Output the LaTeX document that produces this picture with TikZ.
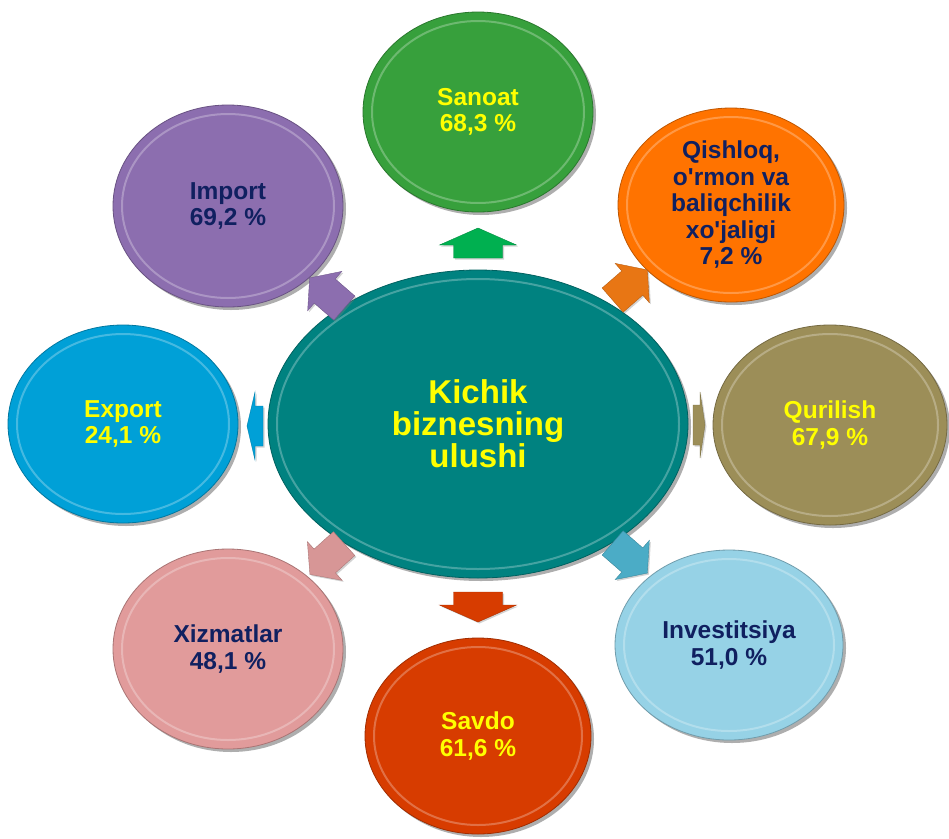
\documentclass[tikz,border=0pt]{standalone}
\usepackage{fontspec}
\setmainfont{Liberation Sans}
\usetikzlibrary{shapes.geometric,shadows}
\definecolor{cteal}{RGB}{0,130,128}
\definecolor{cgreen}{RGB}{55,160,60}
\definecolor{corange}{RGB}{255,115,0}
\definecolor{colive}{RGB}{156,142,88}
\definecolor{clblue}{RGB}{150,210,230}
\definecolor{cred}{RGB}{215,60,0}
\definecolor{cpink}{RGB}{225,155,155}
\definecolor{cblue}{RGB}{0,160,215}
\definecolor{cpurple}{RGB}{140,110,175}
\definecolor{agreen}{RGB}{0,176,80}
\definecolor{aorange}{RGB}{232,118,20}
\definecolor{apink}{RGB}{215,150,150}
\definecolor{ablue}{RGB}{75,172,198}
\definecolor{tyel}{RGB}{255,255,0}
\definecolor{tnavy}{RGB}{16,32,96}
\tikzset{
  bub/.style={ellipse, inner sep=0pt, align=center,
    font=\bfseries\fontsize{24.5}{26.5}\selectfont,
    draw=#1!75!black, line width=0.8pt, fill=#1,
    drop shadow={shadow xshift=3pt, shadow yshift=-3pt, opacity=0.45, fill=black!70}},
  ringline/.style={draw=#1!55!white, line width=2pt, opacity=0.6},
  arrowshape/.style={fill=#1, draw=#1!80!black, line width=0.4pt,
    drop shadow={shadow xshift=1.5pt, shadow yshift=-1.5pt, opacity=0.35}}
}
\newcommand\bevelring[4]{%
  \draw[ringline=#2] (#1.center) ellipse [x radius=#3-9, y radius=#4-9];}
\newcommand\blockarrow[8]{% color, x, y, angle, len, headlen, headw, shaftw
  \path[arrowshape=#1, shift={(#2,#3)}, rotate=#4]
    ({-#5/2},{-#8/2}) -- ({#5/2-#6},{-#8/2}) -- ({#5/2-#6},{-#7/2})
    -- ({#5/2},0) -- ({#5/2-#6},{#7/2}) -- ({#5/2-#6},{#8/2})
    -- ({-#5/2},{#8/2}) -- cycle;}
\begin{document}
\begin{tikzpicture}[x=1pt,y=-1pt]
\useasboundingbox[fill=white] (0,0) rectangle (949,838);

% satellites
\node[bub=cgreen, minimum width=230, minimum height=200, text=tyel] (sanoat) at (478,112) {Sanoat\\68,3 \%};
\node[bub=corange, minimum width=226, minimum height=194, text=tnavy] (qishloq) at (731,205) {Qishloq,\\o\textquotesingle rmon va\\baliqchilik\\xo\textquotesingle jaligi\\7,2 \%};
\node[bub=colive, minimum width=234, minimum height=200, text=tyel] (qurilish) at (830,425) {Qurilish\\67,9 \%};
\node[bub=clblue, minimum width=228, minimum height=190, text=tnavy] (invest) at (729,645) {Investitsiya\\51,0 \%};
\node[bub=cred, minimum width=226, minimum height=196, text=tyel] (savdo) at (478,736) {Savdo\\61,6 \%};
\node[bub=cpink, minimum width=230, minimum height=200, text=tnavy] (xizmat) at (228,649) {Xizmatlar\\48,1 \%};
\node[bub=cblue, minimum width=230, minimum height=198, text=tyel] (export) at (123,424) {Export\\24,1 \%};
\node[bub=cpurple, minimum width=230, minimum height=202, text=tnavy] (import) at (228,206) {Import\\69,2 \%};

% centre
\node[bub=cteal, minimum width=420, minimum height=308, text=tyel,
      font=\bfseries\fontsize{33}{32}\selectfont] (centre) at (478,424) {Kichik\\biznesning\\ulushi};

% bevel rings
\bevelring{sanoat}{cgreen}{115}{100}
\bevelring{qishloq}{corange}{113}{97}
\bevelring{qurilish}{colive}{117}{100}
\bevelring{invest}{clblue}{114}{95}
\bevelring{savdo}{cred}{113}{98}
\bevelring{xizmat}{cpink}{115}{100}
\bevelring{export}{cblue}{115}{99}
\bevelring{import}{cpurple}{115}{101}
\bevelring{centre}{cteal}{210}{154}

% arrows (pointing outward from the centre)
\blockarrow{agreen}{478}{243}{90}{30}{17}{77}{49}
\blockarrow{cred}{478}{607}{-90}{30}{17}{77}{49}
\blockarrow{aorange}{630}{285}{41}{46}{20}{52}{32}
\blockarrow{cpurple}{327}{293}{139}{46}{20}{52}{32}
\blockarrow{apink}{327}{559}{222}{46}{20}{52}{32}
\blockarrow{ablue}{630}{558}{-41}{46}{20}{52}{32}
\blockarrow{cblue}{255}{426}{180}{16}{8}{68}{40}
\blockarrow{colive}{699}{425}{0}{12}{5}{66}{40}
\end{tikzpicture}
\end{document}
